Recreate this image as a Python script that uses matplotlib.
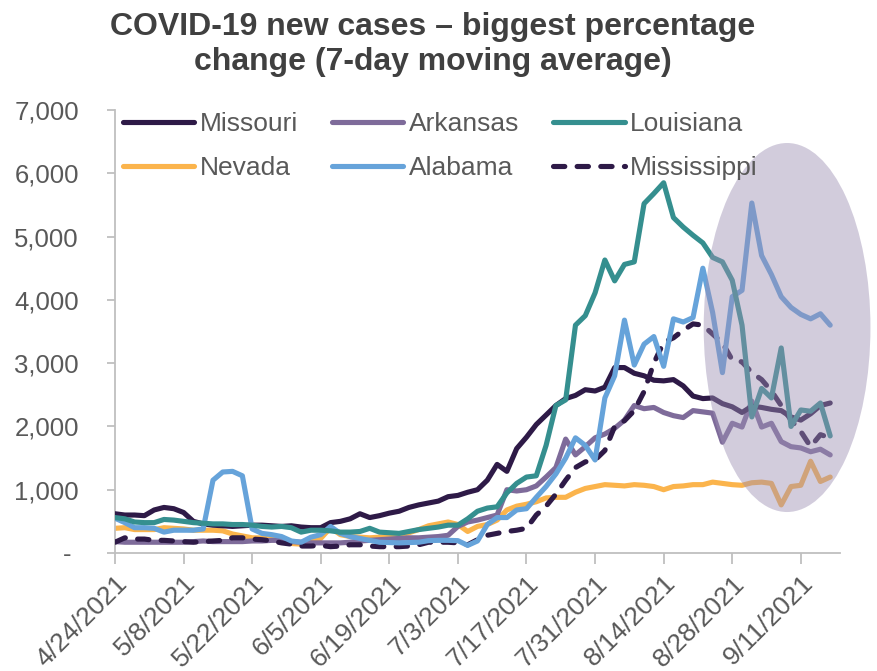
import matplotlib
matplotlib.use("Agg")
import matplotlib.pyplot as plt
from matplotlib.patches import Ellipse
from matplotlib.ticker import FuncFormatter, MultipleLocator
import pandas as pd

plt.rcParams['font.family'] = ['Liberation Sans', 'DejaVu Sans']

# 7-day moving average of new cases, sampled every second day
dates = pd.date_range('2021-04-24', periods=74, freq='2D')

missouri = [620, 600, 600, 590, 680, 720, 700, 640, 500, 460,
            440, 430, 420, 430, 440, 440, 430, 420, 430, 410,
            400, 400, 480, 500, 540, 620, 560, 590, 630, 660,
            720, 760, 790, 820, 890, 910, 960, 1000, 1150, 1400,
            1290, 1650, 1830, 2030, 2180, 2330, 2440, 2490, 2580, 2560,
            2620, 2930, 2930, 2840, 2800, 2730, 2720, 2740, 2640, 2480,
            2440, 2450, 2360, 2310, 2220, 2320, 2300, 2270, 2250, 2150,
            2100, 2200, 2330, 2370]

arkansas = [180, 170, 170, 170, 170, 170, 170, 170, 180, 190,
            180, 180, 180, 180, 190, 190, 200, 200, 180, 170,
            160, 160, 160, 160, 170, 190, 200, 210, 220, 230,
            240, 240, 250, 260, 280, 420, 490, 520, 560, 600,
            1000, 980, 1000, 1060, 1200, 1350, 1800, 1550, 1680, 1820,
            1880, 1970, 2100, 2330, 2280, 2300, 2220, 2170, 2140, 2250,
            2230, 2210, 1750, 2050, 1990, 2400, 1990, 2050, 1760, 1680,
            1660, 1600, 1640, 1550]

louisiana = [560, 540, 490, 480, 480, 530, 520, 500, 480, 470,
             460, 460, 450, 450, 440, 420, 410, 420, 400, 330,
             360, 360, 350, 330, 330, 340, 390, 330, 320, 310,
             340, 370, 390, 410, 440, 440, 540, 660, 710, 730,
             950, 1100, 1200, 1220, 1700, 2330, 2420, 3600, 3750, 4110,
             4630, 4300, 4560, 4600, 5520, 5680, 5850, 5300, 5150, 5020,
             4900, 4670, 4600, 4310, 3600, 2150, 2600, 2450, 3240, 2000,
             2260, 2240, 2370, 1850]

nevada = [390, 400, 370, 370, 370, 400, 390, 380, 360, 360,
          360, 350, 300, 270, 240, 240, 240, 200, 150, 140,
          170, 230, 400, 290, 260, 250, 240, 250, 260, 280,
          320, 370, 430, 460, 490, 450, 340, 420, 450, 520,
          680, 740, 770, 810, 870, 880, 880, 960, 1020, 1050,
          1080, 1070, 1060, 1080, 1070, 1050, 1000, 1050, 1060, 1080,
          1080, 1120, 1100, 1080, 1070, 1110, 1120, 1100, 760, 1050,
          1070, 1450, 1130, 1200]

alabama = [550, 480, 400, 400, 390, 330, 360, 360, 360, 380,
           1150, 1280, 1290, 1220, 380, 310, 290, 260, 190, 170,
           250, 290, 420, 310, 260, 230, 200, 170, 165, 160,
           165, 170, 195, 200, 200, 195, 120, 190, 450, 560,
           560, 680, 700, 880, 1050, 1250, 1500, 1820, 1700, 1470,
           2450, 2800, 3680, 2970, 3300, 3420, 2950, 3700, 3650, 3720,
           4500, 3800, 2850, 4050, 4150, 5530, 4700, 4400, 4050, 3880,
           3770, 3700, 3780, 3600]

mississippi = [170, 240, 220, 220, 200, 200, 190, 180, 170, 180,
               190, 200, 240, 240, 220, 210, 190, 160, 140, 110,
               110, 120, 100, 110, 130, 130, 110, 100, 100, 100,
               110, 130, 170, 170, 170, 160, 130, 210, 280, 310,
               340, 360, 390, 600, 740, 930, 1150, 1350, 1440, 1470,
               1620, 2000, 2090, 2250, 2550, 3000, 3330, 3400, 3520, 3620,
               3600, 3460, 3320, 3050, 3020, 2850, 2740, 2560, 2330, 2100,
               1920, 1680, 1870, 1820]

tick_dates = pd.date_range('2021-04-24', '2021-09-11', freq='14D')
tick_labels = [f"{d.month}/{d.day}/{d.year}" for d in tick_dates]

DARK = '#2E1A47'
series = [
    ('Missouri', missouri, DARK, '-'),
    ('Nevada', nevada, '#FBB44C', '-'),
    ('Arkansas', arkansas, '#7E6B9A', '-'),
    ('Alabama', alabama, '#66A3DA', '-'),
    ('Louisiana', louisiana, '#358F8F', '-'),
    ('Mississippi', mississippi, DARK, '--'),
]

fig = plt.figure(figsize=(8.77, 6.71), dpi=100)
ax = fig.add_axes([115 / 877, 1 - 553 / 671, 725 / 877, 443 / 671])

draw_order = ['Nevada', 'Arkansas', 'Missouri', 'Mississippi', 'Alabama', 'Louisiana']
handles = {}
LW = 3.7
for name, vals, color, ls in series:
    z = 2 + draw_order.index(name)
    if ls == '--':
        line, = ax.plot(dates, vals, color=color, lw=LW, linestyle=(0, (2.2, 2.4)),
                        dash_capstyle='round', dash_joinstyle='round', zorder=z, label=name)
    else:
        line, = ax.plot(dates, vals, color=color, lw=LW, solid_capstyle='round',
                        solid_joinstyle='round', zorder=z, label=name)
    handles[name] = line

# highlight of the most recent weeks
ell = Ellipse((0.927, 0.509), 0.230, 0.833, transform=ax.transAxes,
              facecolor='#9C8FB3', alpha=0.45, edgecolor='none', zorder=20, clip_on=False)
ax.add_patch(ell)

ax.set_ylim(0, 7000)
ax.set_xlim(pd.Timestamp('2021-04-24'), pd.Timestamp('2021-04-24') + pd.Timedelta(days=148))
ax.yaxis.set_major_locator(MultipleLocator(1000))
ax.yaxis.set_major_formatter(FuncFormatter(lambda v, p: '- ' if v == 0 else f"{v:,.0f}"))
ax.set_xticks(tick_dates)
ax.set_xticklabels(tick_labels, rotation=45, ha='right', va='top', rotation_mode='anchor')

for s in ['top', 'right']:
    ax.spines[s].set_visible(False)
for s in ['left', 'bottom']:
    ax.spines[s].set_color('#BFBFBF')
    ax.spines[s].set_linewidth(1.3)
ax.tick_params(axis='y', direction='out', length=6, width=1.3, color='#BFBFBF',
               labelsize=18.5, labelcolor='#595959', pad=20)
ax.tick_params(axis='x', direction='out', length=8, width=1.3, color='#BFBFBF',
               labelsize=19, labelcolor='#595959', pad=5)

order = ['Missouri', 'Nevada', 'Arkansas', 'Alabama', 'Louisiana', 'Mississippi']
leg = ax.legend([handles[n] for n in order], order, ncol=3, loc='upper left',
                bbox_to_anchor=(0.011, 0.995), frameon=False, fontsize=19,
                handlelength=2.7, handletextpad=0.2, columnspacing=1.3,
                labelspacing=0.75, borderpad=0, borderaxespad=0, labelcolor='#595959')
leg.set_zorder(30)

fig.suptitle('COVID-19 new cases \u2013 biggest percentage\nchange (7-day moving average)',
             x=433 / 877, y=0.982, ha='center', va='top', fontsize=23,
             fontweight='bold', color='#404040', linespacing=1.22)

fig.savefig('out.png', dpi=100, facecolor='white')
